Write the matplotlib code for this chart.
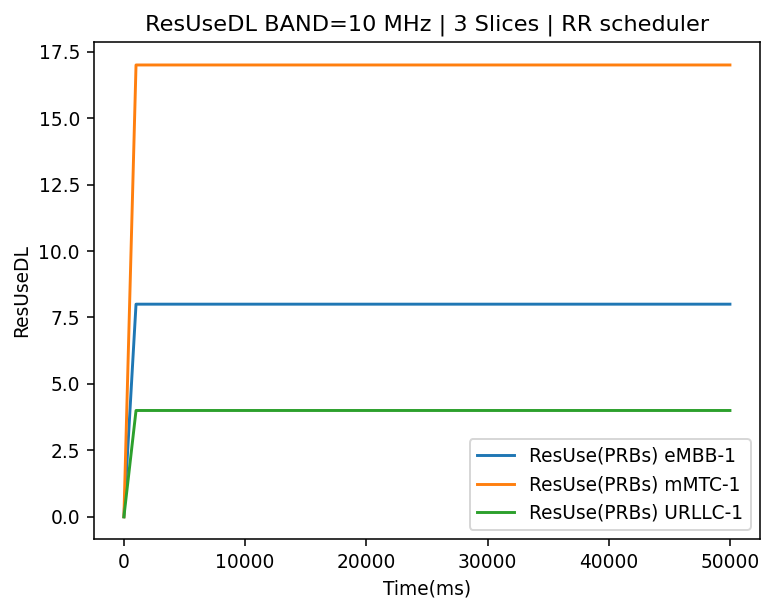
import matplotlib
matplotlib.use("Agg")
import matplotlib.pyplot as plt

time_ms = [0, 1000, 50000]
embb = [0, 8, 8]
mmtc = [0, 17, 17]
urllc = [0, 4, 4]

plt.rcParams["font.size"] = 9.6

DPI = 140
fig, ax = plt.subplots(figsize=(761 / DPI, 602 / DPI), dpi=DPI)
ax.plot(time_ms, embb, label="ResUse(PRBs) eMBB-1")
ax.plot(time_ms, mmtc, label="ResUse(PRBs) mMTC-1")
ax.plot(time_ms, urllc, label="ResUse(PRBs) URLLC-1")
ax.set_title("ResUseDL BAND=10 MHz | 3 Slices | RR scheduler", fontsize=11.5)
ax.set_xlabel("Time(ms)")
ax.set_ylabel("ResUseDL")
ax.legend(loc="lower right")
fig.subplots_adjust(left=0.123, right=0.999, top=0.9296, bottom=0.104)
fig.savefig("out.png", dpi=DPI)
